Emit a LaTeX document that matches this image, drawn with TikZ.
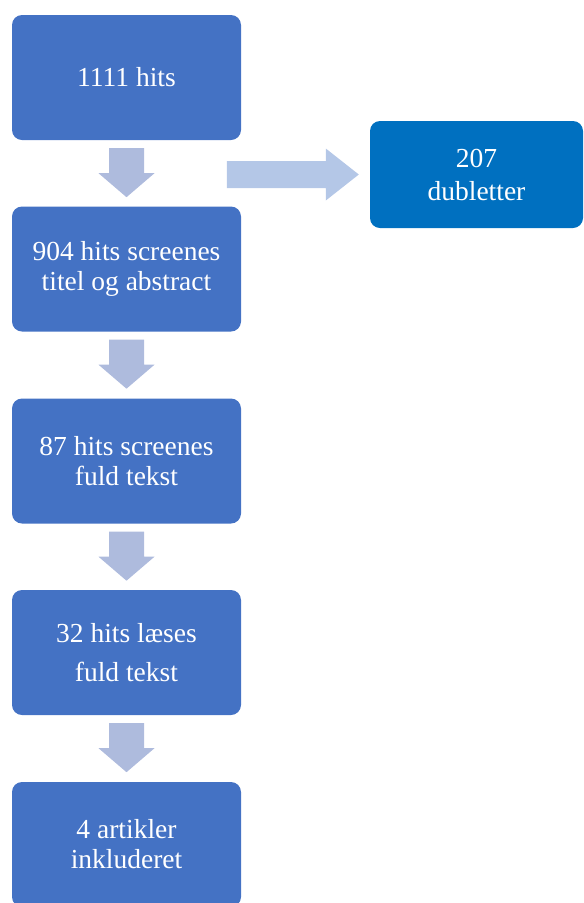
\documentclass[tikz,border=0pt]{standalone}
\usepackage{fontspec}
\setmainfont{Liberation Serif}
\usetikzlibrary{calc}
\definecolor{stepblue}{HTML}{4472C4}
\definecolor{sideblue}{HTML}{0070C0}
\definecolor{downfill}{HTML}{AEBBDD}
\definecolor{sidefill}{HTML}{B4C7E7}
\tikzset{
  stepbox/.style={rectangle, rounded corners=10pt, fill=stepblue, text=white,
    minimum width=229pt, minimum height=125pt, align=center, inner sep=0pt,
    font=\fontsize{27.5}{30}\selectfont},
  sidebox/.style={stepbox, fill=sideblue, minimum width=213pt, minimum height=107pt},
}
% block arrow pointing down, hanging below the given node
\newcommand\flowdown[1]{%
  \fill[downfill, shift={($(#1.south)+(0,8)$)}]
    (-17.5,0) -- (17.5,0) -- (17.5,25) -- (28,25) -- (0,49) -- (-28,25) -- (-17.5,25) -- cycle;}
\begin{document}
\begin{tikzpicture}[x=1pt, y=-1pt]
  \useasboundingbox (0,0) rectangle (584,903);
  \node[stepbox] (b1) at (126.5,77.5) {1111 hits};
  \node[stepbox] (b2) at (126.5,269) {904 hits screenes\\titel og abstract};
  \node[stepbox] (b3) at (126.5,461) {87 hits screenes\\fuld tekst};
  \node[stepbox] (b4) at (126.5,652.5) {32 hits læses\\[9pt]fuld tekst};
  \node[stepbox] (b5) at (126.5,844.5) {4 artikler\\inkluderet};
  \node[sidebox] (rb) at (476.5,174.5) {207\\[3pt]dubletter};
  \flowdown{b1}
  \flowdown{b2}
  \flowdown{b3}
  \flowdown{b4}
  % block arrow leading to the duplicates box
  \fill[sidefill, shift={($(rb.west)+(-11,0)$)}]
    (0,0) -- (-33,-26) -- (-33,-13.5) -- (-132,-13.5) -- (-132,13.5) -- (-33,13.5) -- (-33,26) -- cycle;
\end{tikzpicture}
\end{document}
